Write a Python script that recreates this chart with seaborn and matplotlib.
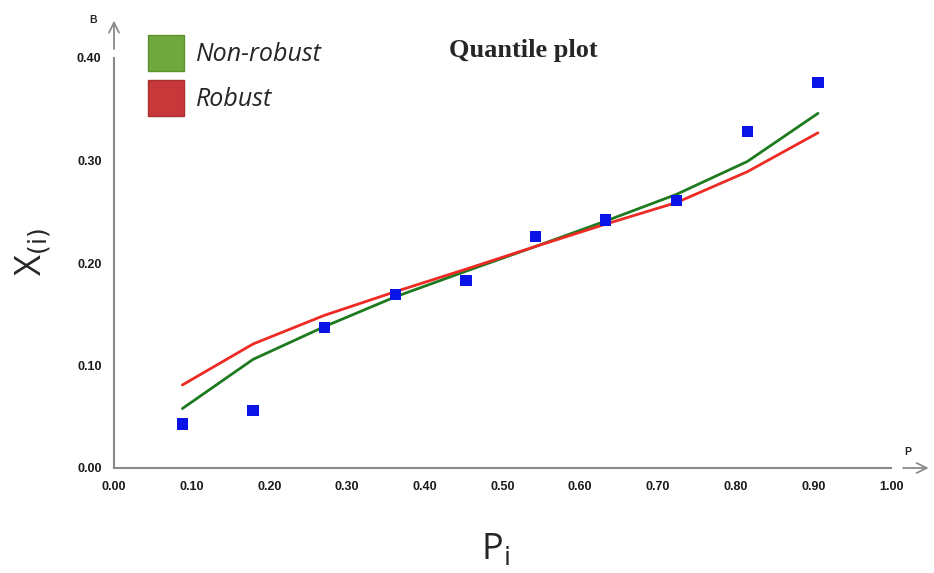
import pandas as pd
import matplotlib
matplotlib.use("Agg")
import matplotlib.pyplot as plt
import seaborn as sns
from matplotlib.patches import Patch

# Values
p_i = [0.088, 0.179, 0.271, 0.362, 0.453, 0.542, 0.633, 0.724, 0.815, 0.906]
x_obs = [0.043, 0.056, 0.137, 0.169, 0.183, 0.226, 0.242, 0.261, 0.328, 0.376]
fit_nonrobust = [0.058, 0.106, 0.138, 0.167, 0.192, 0.216, 0.241, 0.267, 0.299, 0.346]
fit_robust = [0.081, 0.121, 0.149, 0.172, 0.194, 0.216, 0.238, 0.259, 0.289, 0.327]
x_ticks = [0.0, 0.1, 0.2, 0.3, 0.4, 0.5, 0.6, 0.7, 0.8, 0.9, 1.0]
y_ticks = [0.0, 0.1, 0.2, 0.3, 0.4]

lines = pd.DataFrame({
    "p": p_i * 2,
    "x": fit_nonrobust + fit_robust,
    "fit": ["Non-robust"] * len(p_i) + ["Robust"] * len(p_i),
})
points = pd.DataFrame({"p": p_i, "x": x_obs})

sns.set_style("white")
plt.rcParams["font.family"] = ["Liberation Sans", "DejaVu Sans"]

W, H = 934, 573
fig = plt.figure(figsize=(W / 100, H / 100), dpi=100)
ax = fig.add_axes([114 / W, 1 - 468 / H, 777 / W, 410 / H])

sns.lineplot(data=lines, x="p", y="x", hue="fit",
             palette={"Non-robust": "#1e7a1e", "Robust": "#ee2a24"},
             linewidth=2, legend=False, ax=ax)
sns.scatterplot(data=points, x="p", y="x", marker="s", s=65,
                color="#0a14e6", edgecolor="none", ax=ax, zorder=5)

ax.set_xlim(0, 1.0)
ax.set_ylim(0, 0.40)
ax.set_xticks(x_ticks)
ax.set_yticks(y_ticks)
ax.set_xticklabels([f"{v:.2f}" for v in x_ticks])
ax.set_yticklabels([f"{v:.2f}" for v in y_ticks])
ax.set_xlabel("")
ax.set_ylabel("")
ax.tick_params(axis="both", length=7, width=1.3, color="#8a8a8a", pad=2,
               labelsize=9, labelcolor="#1a1a1a")
for lab in ax.get_xticklabels() + ax.get_yticklabels():
    lab.set_fontweight("bold")
for side in ["top", "right"]:
    ax.spines[side].set_visible(False)
for side in ["left", "bottom"]:
    ax.spines[side].set_color("#8a8a8a")
    ax.spines[side].set_linewidth(1.5)

# axis arrows with their letters
arrow = dict(arrowstyle="->", color="#8a8a8a", lw=1.3, mutation_scale=18)
ax.annotate("", xy=(0, 1.098), xytext=(0, 1.015), xycoords="axes fraction",
            arrowprops=arrow, annotation_clip=False)
ax.annotate("", xy=(1.052, 0), xytext=(1.012, 0), xycoords="axes fraction",
            arrowprops=arrow, annotation_clip=False)
ax.text(-0.027, 1.093, "B", transform=ax.transAxes, fontsize=7.5,
        fontweight="bold", ha="center", va="center")
ax.text(1.021, 0.04, "P", transform=ax.transAxes, fontsize=7.5,
        fontweight="bold", ha="center", va="center")

fig.text(523 / W, 1 - 51 / H, "Quantile plot", fontsize=19, fontweight="bold",
         family="Liberation Serif", ha="center", va="center")
fig.text(33 / W, 1 - 252 / H, r"X$_{\mathrm{(i)}}$", fontsize=26,
         family="Open Sans", rotation=90, ha="center", va="center")
fig.text(495 / W, 1 - 550 / H, r"P$_{\mathrm{i}}$", fontsize=26,
         family="Open Sans", ha="center", va="center")

handles = [Patch(facecolor="#6fa83c", edgecolor="#5c9030"),
           Patch(facecolor="#c8383a", edgecolor="#a83030")]
fig.legend(handles, ["Non-robust", "Robust"], loc="upper left",
           bbox_to_anchor=(148 / W, 1 - 35 / H), frameon=False,
           prop={"family": "Open Sans", "style": "italic", "size": 18},
           handlelength=1.45, handleheight=1.85, handletextpad=0.45,
           labelspacing=0.35, borderpad=0, borderaxespad=0)

fig.savefig("out.png", dpi=100)
